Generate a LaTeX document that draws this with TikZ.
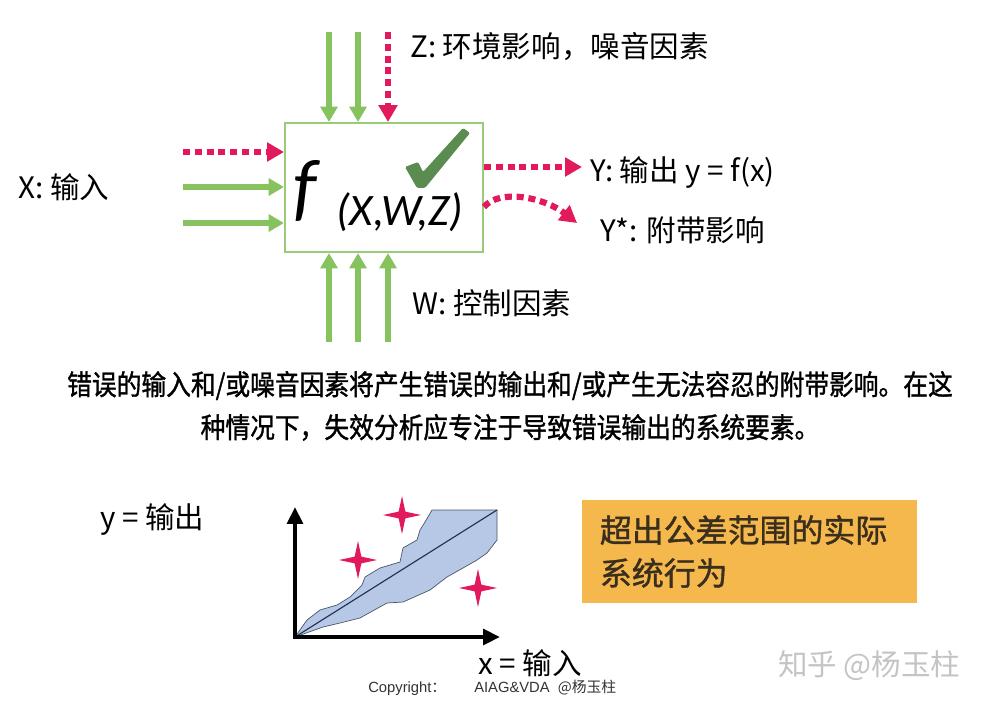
\documentclass[tikz,border=0pt]{standalone}
\usepackage{fontspec}
\setmainfont{Noto Sans CJK SC}
\newfontfamily\calib{Carlito}
\newfontfamily\narrowcjk[FakeStretch=0.88,FakeBold=1.2]{Noto Sans CJK SC}
\newfontfamily\semicjk[FakeBold=1.2]{Noto Sans CJK SC}
\newfontfamily\arialf{Liberation Sans}
\usetikzlibrary{arrows.meta,shapes.geometric}

\definecolor{arrgreen}{HTML}{86C35E}
\definecolor{boxgreen}{HTML}{98CB7A}
\definecolor{dotred}{HTML}{E2195B}
\definecolor{checkgreen}{HTML}{5B8C4F}
\definecolor{bandblue}{HTML}{B7C8E6}
\definecolor{bandedge}{HTML}{4A5568}
\definecolor{diagblue}{HTML}{1F3050}
\definecolor{boxorange}{HTML}{F5B84C}
\definecolor{tolgray}{HTML}{3A2E1E}
\definecolor{wmgray}{HTML}{C4C4C4}

\tikzset{
  greenarr/.style={draw=arrgreen,line width=4.2pt,-{Triangle[length=11pt,width=12pt]}},
  redarr/.style={draw=dotred,line width=4.4pt,dash pattern=on 5pt off 3.4pt,-{Triangle[length=12pt,width=13pt]}},
  lbl/.style={anchor=west,inner sep=0pt,font=\fontsize{21pt}{25pt}\selectfont},
  sparkle/.style={star,star points=4,star point ratio=4,fill=dotred,inner sep=0pt,minimum size=0.95cm},
  tolbox/.style={fill=boxorange,text=tolgray,minimum height=2.575cm,text width=7.475cm,inner xsep=0.45cm,align=left,font=\semicjk\fontsize{22.7pt}{30.5pt}\selectfont},
}

\begin{document}
\begin{tikzpicture}[x=0.025cm,y=-0.025cm]
    \fill[white] (0,0) rectangle (983,708);
    \useasboundingbox (0,0) rectangle (983,708);

    % function block
    \node[draw=boxgreen,line width=1.4pt,minimum width=4.95cm,minimum height=3.225cm] (fbox) at (384,187.5) {};
    \node[anchor=base west,inner sep=0pt,font=\calib\itshape\fontsize{54pt}{54pt}\selectfont] (fsym) at (293,212) {f};
    \node[anchor=base west,inner sep=0pt,font=\calib\itshape\fontsize{32pt}{32pt}\selectfont] (fargs) at (336,225) {(X,W,Z)};
    \fill[checkgreen,rounded corners=1pt] (405,167) -- (418,162) -- (423,172) -- (463,128) -- (470,133) -- (425,188) -- (417,188) -- cycle;

    % inputs from above
    \coordinate (z1) at (329,32);
    \coordinate (z2) at (358,32);
    \coordinate (z3) at (388,32);
    \draw[greenarr] (z1) -- (z1 |- fbox.north);
    \draw[greenarr] (z2) -- (z2 |- fbox.north);
    \draw[redarr] (z3) -- (z3 |- fbox.north);

    % inputs from the left
    \coordinate (x1) at (183,152);
    \coordinate (x2) at (183,187);
    \coordinate (x3) at (183,223);
    \draw[redarr] (x1) -- (x1 -| fbox.west);
    \draw[greenarr] (x2) -- (x2 -| fbox.west);
    \draw[greenarr] (x3) -- (x3 -| fbox.west);

    % inputs from below
    \coordinate (w1) at (329,342);
    \coordinate (w2) at (358,342);
    \coordinate (w3) at (388,342);
    \draw[greenarr] (w1) -- (w1 |- fbox.south);
    \draw[greenarr] (w2) -- (w2 |- fbox.south);
    \draw[greenarr] (w3) -- (w3 |- fbox.south);

    % outputs
    \coordinate (y1) at (582,167);
    \coordinate (y2) at (577,223);
    \draw[redarr] (fbox.east |- y1) -- (y1);
    \draw[redarr] (fbox.east |- 0,207) .. controls (500,188) and (545,198) .. (y2);

    \node[lbl] (zlab) at (410,47) {Z: 环境影响，噪音因素};
    \node[lbl] (xlab) at (18,187) {X: 输入};
    \node[lbl] (ylab) at (590,173) {Y: 输出 y = f(x)};
    \node[lbl] (yslab) at (600,230) {Y*: 附带影响};
    \node[lbl] (wlab) at (412,303) {W: 控制因素};

    \node[inner sep=0pt,align=center,font=\narrowcjk\fontsize{20pt}{30.5pt}\selectfont] (note) at (510,406)
        {错误的输入和/或噪音因素将产生错误的输出和/或产生无法容忍的附带影响。在这\\种情况下，失效分析应专注于导致错误输出的系统要素。};

    % behaviour chart
    \coordinate (o) at (295,637);
    \coordinate (ytip) at (295,507);
    \coordinate (xtip) at (500,637);
    \coordinate (bandend) at (497,510);
    \filldraw[fill=bandblue,draw=bandedge,line width=0.5pt] (o) -- (307,620) -- (320,610) -- (337,605) -- (350,597)
        -- (362,585) -- (365,577) -- (380,568) -- (400,562) -- (403,548) -- (417,540) -- (420,530) -- (425,522)
        -- (432,510) -- (bandend) -- (497,540) -- (487,553) -- (477,560) -- (463,568) -- (447,577) -- (430,590)
        -- (403,602) -- (387,603) -- (360,618) -- (340,623) -- (323,627) -- cycle;
    \draw[diagblue,line width=0.8pt] (o) -- (bandend);
    \draw[line width=3.5pt,line join=miter,{Triangle[length=12pt,width=11pt]}-{Triangle[length=12pt,width=11pt]}] (ytip) -- (o) -- (xtip);
    \foreach \p [count=\i] in {(402,515),(358,560),(478,588)}
        \node[sparkle] (s\i) at \p {};

    \node[lbl] (yout) at (100,520) {y = 输出};
    \node[lbl] (xin) at (478,663) {x = 输入};

    \node[tolbox] (tol) at (749.5,551.5) {超出公差范围的实际\\系统行为};

    \node[anchor=west,inner sep=0pt,font=\arialf\fontsize{10.5pt}{12pt}\selectfont,text=black!80] (copy) at (368,688)
        {Copyright{\rmfamily ：}\hspace{0.7cm}AIAG\&VDA\ \ {\rmfamily @杨玉柱}};
    \node[lbl,text=wmgray] (wm) at (778,666) {知乎 @杨玉柱};
\end{tikzpicture}
\end{document}
